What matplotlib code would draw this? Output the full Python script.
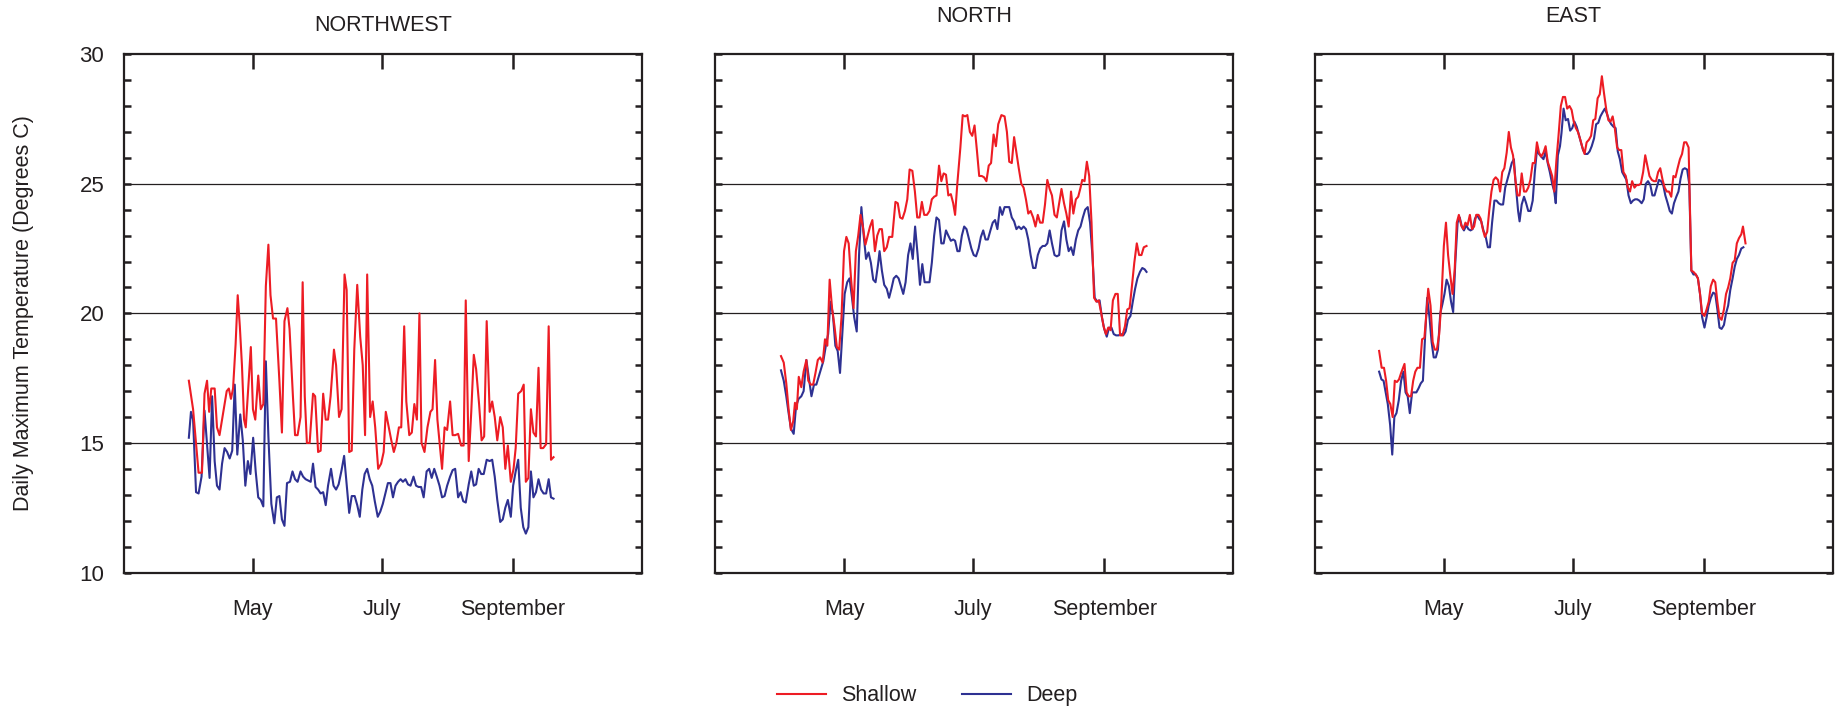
import matplotlib
matplotlib.use('Agg')
import matplotlib.pyplot as plt
from matplotlib.lines import Line2D

plt.rcParams['font.family'] = ['Liberation Sans', 'DejaVu Sans']

TEXT = '#231f20'
RED = '#ed1c24'
BLUE = '#2e3192'

panel_titles = ['NORTHWEST', 'NORTH', 'EAST']
month_days = [121, 182, 244]          # day of year: May 1, Jul 1, Sep 1
month_labels = ['May', 'July', 'September']
y_labels = [10, 15, 20, 25, 30]
series_names = ['Shallow', 'Deep']

# ---------------- NORTHWEST ----------------
nw_shallow_day = [90.8,92.8,95.4,97.0,98.2,99.4,100.4,101.4,103.0,104.1,
    105.3,107.3,108.7,109.7,110.7,111.7,112.9,113.9,114.9,115.9,
    116.9,117.7,119.1,120.1,121.1,122.2,123.6,124.8,126.0,127.2,
    128.4,129.4,130.6,132.0,133.6,134.8,136.0,137.4,138.4,140.0,
    141.0,142.2,143.6,144.6,145.6,146.6,147.9,149.5,150.5,151.9,
    153.1,154.3,155.5,156.6,157.8,159.4,160.4,161.8,163.0,164.4,
    165.4,166.6,167.8,169.0,170.4,171.8,173.0,174.1,175.1,176.5,
    177.7,178.9,180.3,181.7,182.9,183.9,185.3,186.5,187.7,188.9,
    190.1,191.2,192.6,193.6,195.0,196.2,197.4,198.6,199.8,200.8,
    202.2,203.6,205.0,206.0,207.2,208.3,210.5,211.7,212.9,214.3,
    215.5,216.7,218.1,219.5,220.7,221.7,223.1,224.3,225.5,226.6,
    228.0,229.2,230.4,231.6,233.0,234.2,235.4,236.6,238.0,239.2,
    240.4,241.6,243.0,244.3,245.3,246.5,247.9,249.1,250.1,251.3,
    252.5,253.7,254.9,256.1,257.1,258.3,259.7,260.9,262.0,263.2]
nw_shallow = [17.4,16.3,13.85,13.85,16.9,17.4,16.2,17.1,17.1,15.6,
    15.3,16.3,17.0,17.1,16.7,17.1,18.8,20.7,19.5,18.0,
    15.9,15.6,17.4,18.7,16.3,15.9,17.6,16.3,16.5,21.05,
    22.65,20.7,19.8,19.8,17.4,15.4,19.7,20.2,19.4,16.8,
    15.3,15.3,16.0,21.2,16.8,15.0,15.0,16.9,16.8,14.65,
    14.7,16.9,15.9,15.9,16.8,18.6,18.0,16.0,16.3,21.5,
    20.9,14.65,14.7,18.6,21.1,19.1,18.0,15.3,21.5,16.0,
    16.6,15.6,14.0,14.2,14.65,16.2,15.6,15.1,14.65,15.0,
    15.6,15.6,19.5,16.6,15.3,15.4,16.5,15.9,20.0,15.0,
    14.65,15.6,16.2,16.3,18.2,15.9,14.0,15.6,15.5,16.6,
    15.3,15.3,15.35,14.9,14.9,20.5,14.3,16.2,18.4,17.85,
    16.5,15.1,15.25,19.7,16.2,16.6,16.0,15.1,16.0,15.6,
    14.0,14.9,13.5,14.0,14.8,16.9,17.0,17.25,13.5,13.65,
    16.3,15.4,15.25,17.9,14.8,14.8,14.95,19.5,14.35,14.45]
nw_deep_day = [90.8,91.8,92.8,94.2,95.4,96.8,98.2,99.4,100.6,101.8,
    103.0,104.1,105.3,106.5,107.7,108.9,110.1,111.3,112.5,113.7,
    115.1,116.3,117.5,118.7,119.9,121.2,122.4,123.6,124.8,126.0,
    127.2,128.4,129.8,131.2,132.4,133.6,134.8,136.0,137.2,138.6,
    139.8,141.0,142.2,143.6,144.8,146.0,147.2,148.4,149.5,150.7,
    151.9,153.1,154.3,155.5,156.6,158.0,159.2,160.4,161.6,163.0,
    164.2,165.4,166.6,167.8,169.2,170.4,171.6,172.8,173.9,175.1,
    176.3,177.5,178.7,180.1,181.3,182.5,183.7,184.9,186.1,187.3,
    188.5,189.7,190.9,192.0,193.2,194.4,195.6,197.0,198.2,199.4,
    200.6,201.8,203.2,204.4,205.6,206.8,208.0,209.3,210.5,211.7,
    212.9,214.3,215.5,216.7,218.1,219.3,220.5,221.7,223.1,224.3,
    225.5,226.6,227.8,229.0,230.2,231.6,233.0,234.2,235.4,236.6,
    238.0,239.2,240.4,241.6,243.0,244.1,245.3,246.5,247.7,248.9,
    250.1,251.3,252.5,253.7,254.9,256.1,257.3,258.5,259.7,260.9,
    262.0,263.2]
nw_deep = [15.2,16.2,15.9,13.1,13.05,13.7,16.25,14.95,13.65,16.8,
    14.3,13.35,13.2,14.2,14.8,14.65,14.4,14.7,17.25,14.55,
    16.1,15.1,13.35,14.3,13.8,15.2,13.9,12.9,12.8,12.55,
    18.15,15.25,12.65,11.9,12.9,12.95,12.05,11.8,13.45,13.5,
    13.9,13.6,13.5,13.9,13.7,13.6,13.55,13.5,14.2,13.3,
    13.2,13.05,13.1,12.6,13.35,14.0,13.35,13.2,13.4,13.95,
    14.5,13.4,12.3,12.95,12.95,12.6,12.15,13.2,13.8,14.0,
    13.6,13.35,12.75,12.15,12.35,12.65,13.05,13.45,13.45,12.9,
    13.35,13.5,13.6,13.5,13.6,13.4,13.35,13.7,13.35,13.3,
    13.3,12.9,13.9,14.0,13.65,14.0,13.7,13.35,12.9,12.95,
    13.35,13.7,13.95,14.0,12.9,13.1,12.75,12.7,13.4,13.9,
    13.35,13.4,14.0,13.8,13.8,14.35,14.3,14.35,13.7,12.8,
    11.95,12.05,12.5,12.8,12.15,13.35,13.9,14.35,12.5,11.75,
    11.5,11.75,13.9,12.9,13.1,13.6,13.2,13.05,13.05,13.6,
    12.9,12.85]

# ---------------- NORTH ----------------
n_shallow_day = [91.2,92.5,93.7,94.8,95.9,97.0,97.8,98.7,99.6,100.8,
    101.9,103.2,104.1,105.3,106.4,107.5,108.6,109.7,110.9,112.0,
    113.1,114.2,115.4,116.5,117.6,118.7,119.8,121.0,122.1,123.2,
    124.3,125.5,126.6,127.7,128.8,129.9,131.1,132.2,133.3,134.4,
    135.6,136.7,137.8,138.9,140.0,141.2,142.3,143.8,145.3,146.4,
    147.5,148.6,149.8,150.9,152.0,153.3,154.5,155.6,156.7,157.8,
    158.9,160.2,161.4,162.5,163.6,164.7,165.9,167.0,168.1,169.2,
    170.3,171.5,172.6,173.5,174.6,176.0,177.1,178.2,179.3,180.5,
    181.6,182.7,183.8,184.9,186.1,187.2,188.3,189.4,190.5,191.7,
    192.8,193.9,195.4,196.9,198.0,199.1,200.3,201.4,202.5,203.6,
    204.8,205.9,207.0,208.1,209.2,210.4,211.5,212.6,213.7,214.9,
    216.0,217.1,218.2,219.3,220.5,221.6,222.7,223.8,225.0,226.1,
    227.2,228.3,229.4,230.6,231.7,232.8,233.6,234.7,235.8,236.9,
    238.0,239.2,240.3,241.4,242.5,243.7,244.8,245.9,247.0,248.1,
    249.3,250.4,251.5,252.6,253.8,254.9,256.0,257.1,258.2,259.4,
    260.5,261.6,262.7,264.0]
n_shallow = [18.35,18.1,17.3,16.3,15.5,15.85,16.55,16.3,17.55,17.15,
    17.75,18.2,17.4,17.25,17.25,17.7,18.2,18.3,18.1,19.0,
    18.75,21.3,20.15,19.5,18.7,18.6,19.85,22.4,22.95,22.7,
    21.35,20.2,22.4,23.0,23.8,23.35,22.65,23.0,23.35,23.6,
    22.4,23.0,23.25,23.25,22.4,22.55,22.95,22.95,24.3,24.25,
    23.7,23.65,23.95,24.4,25.55,25.5,24.7,23.7,23.7,24.3,
    23.8,23.8,23.95,24.4,24.5,24.55,25.7,25.1,25.4,25.35,
    24.55,24.6,24.25,23.8,25.05,26.4,27.65,27.6,27.65,27.0,
    26.85,27.25,26.3,25.3,25.3,25.25,25.1,25.7,25.8,26.9,
    26.45,27.3,27.65,27.6,27.0,25.85,25.8,26.8,26.2,25.6,
    25.0,24.85,24.4,23.85,23.95,23.7,23.35,23.8,23.5,23.5,
    24.2,25.15,24.8,24.55,23.8,23.7,24.25,24.8,24.25,23.85,
    23.35,24.7,23.85,24.4,24.5,24.85,25.15,25.1,25.85,25.3,
    23.5,20.6,20.45,20.5,20.05,19.5,19.2,19.45,19.35,20.5,
    20.75,20.75,19.15,19.15,19.5,20.15,20.2,21.05,21.95,22.7,
    22.25,22.25,22.55,22.6]
n_deep_day = [91.2,92.5,93.7,94.8,95.9,97.2,98.3,99.5,100.8,101.9,
    103.2,104.5,105.6,106.8,107.9,109.0,110.1,111.2,112.4,113.5,
    114.6,115.7,116.9,118.0,119.1,120.2,121.3,122.5,123.6,124.7,
    125.8,127.0,128.1,129.2,130.3,131.4,132.6,133.7,134.8,135.9,
    137.1,137.8,138.9,140.0,141.2,142.3,143.4,144.5,145.7,146.8,
    147.9,149.0,150.1,151.3,152.4,153.5,154.6,155.8,156.9,158.0,
    159.1,160.2,161.4,162.5,163.6,164.7,165.9,167.0,168.1,169.2,
    170.3,171.5,172.6,173.5,174.6,175.6,176.7,177.8,178.9,180.1,
    181.2,182.3,183.4,184.6,185.7,186.8,187.9,189.0,190.2,191.3,
    192.4,193.5,194.7,195.8,196.9,198.0,199.1,200.3,201.4,202.5,
    203.6,204.8,205.9,207.0,208.1,209.2,210.4,211.5,212.6,213.7,
    214.9,216.0,217.1,218.2,219.3,220.5,221.6,222.7,223.8,225.0,
    226.1,227.2,228.3,229.4,230.6,231.7,232.8,233.9,235.0,236.2,
    237.3,238.4,239.5,240.7,241.8,242.9,244.0,245.2,246.3,247.4,
    248.5,249.6,250.8,251.9,253.0,254.1,255.2,256.4,257.5,258.6,
    259.7,260.9,262.0,263.1,264.0]
n_deep = [17.8,17.4,16.8,16.15,15.55,15.35,16.4,16.7,16.8,17.0,
    18.2,17.45,16.8,17.25,17.25,17.55,17.85,18.15,18.75,19.2,
    20.45,20.0,18.75,18.55,17.7,19.2,20.75,21.2,21.35,20.65,
    19.85,19.3,22.25,24.1,23.0,22.1,22.35,21.95,21.3,21.2,
    21.9,22.4,21.65,21.1,20.95,20.6,20.95,21.35,21.45,21.35,
    21.05,20.75,21.2,22.25,22.7,22.1,23.35,22.25,21.1,21.9,
    21.2,21.2,21.2,21.95,23.0,23.7,23.6,22.7,22.7,23.2,
    23.0,22.8,22.85,22.8,22.4,22.4,23.0,23.35,23.25,22.85,
    22.5,22.25,22.2,22.5,22.95,23.2,22.85,22.85,23.2,23.5,
    23.6,23.25,24.1,23.8,24.1,24.1,24.1,23.7,23.55,23.25,
    23.35,23.25,23.35,23.25,22.85,22.25,21.75,21.75,22.25,22.5,
    22.6,22.6,22.7,23.2,22.7,22.25,22.2,22.25,23.2,23.55,
    22.85,22.4,22.55,22.25,22.85,23.2,23.35,23.7,24.0,24.1,
    23.5,22.25,20.6,20.45,20.5,19.85,19.4,19.1,19.45,19.45,
    19.2,19.15,19.15,19.2,19.15,19.3,19.75,19.9,20.45,20.95,
    21.35,21.6,21.75,21.7,21.6]

# ---------------- EAST ----------------
e_shallow_day = [90.5,91.7,92.8,93.8,94.8,95.8,96.9,97.9,98.9,99.9,
    100.9,102.5,103.5,104.5,105.6,106.6,107.6,108.6,109.8,110.8,
    111.9,112.9,113.7,114.8,115.8,116.8,117.8,118.9,119.9,121.1,
    122.1,123.1,124.1,125.2,126.2,127.2,128.2,129.3,130.3,131.3,
    132.3,133.4,134.4,135.4,136.4,137.5,138.5,139.5,140.5,141.6,
    142.6,143.6,144.6,145.6,146.7,147.7,148.7,149.7,150.8,151.8,
    152.8,153.8,154.9,155.9,156.9,157.9,159.0,160.0,161.0,162.0,
    163.1,164.1,165.1,166.1,167.1,168.2,169.2,170.2,171.2,172.3,
    173.3,174.3,175.3,176.4,177.4,178.4,179.4,180.5,181.5,182.5,
    183.5,184.5,185.6,186.6,187.6,188.6,189.7,190.7,191.7,192.7,
    193.8,194.8,195.8,196.8,197.9,198.9,199.9,200.9,201.9,203.0,
    204.0,205.0,206.0,207.1,208.1,209.1,210.1,211.2,212.2,213.2,
    214.2,215.3,216.3,217.3,218.3,219.4,220.4,221.4,222.4,223.4,
    224.5,225.5,226.5,227.5,228.6,229.6,230.6,231.6,232.7,233.7,
    234.7,235.7,236.8,237.4,238.1,239.1,240.2,241.2,242.2,243.2,
    244.3,245.3,246.3,247.3,248.4,249.4,250.4,251.4,252.4,253.5,
    254.5,255.5,256.5,257.6,258.6,259.6,260.6,261.7,262.5,263.7]
e_shallow = [18.55,17.9,17.9,17.4,16.65,16.5,16.0,17.4,17.35,17.45,
    17.7,18.05,16.95,16.8,16.8,17.4,17.75,17.9,17.9,19.0,
    19.05,20.05,20.95,20.3,18.9,18.6,18.6,19.2,20.45,22.6,
    23.5,22.25,21.5,20.75,21.65,23.5,23.8,23.4,23.25,23.5,
    23.4,23.8,23.25,23.35,23.8,23.8,23.65,23.25,22.95,23.15,
    24.0,24.7,25.15,25.25,25.15,24.7,25.45,25.6,26.2,27.0,
    26.4,26.1,25.15,24.55,24.55,25.4,24.7,24.7,24.85,25.15,
    25.8,25.8,26.6,26.2,26.05,26.2,26.45,25.85,25.6,25.3,
    24.7,25.9,26.85,28.0,28.35,28.35,27.9,28.0,27.85,27.4,
    27.15,27.0,26.7,26.4,26.15,26.6,26.7,26.85,27.45,27.5,
    28.3,28.45,29.15,28.5,27.85,27.45,27.4,27.6,27.15,26.4,
    26.3,26.3,25.45,25.3,24.85,24.7,25.1,24.85,24.95,24.95,
    25.0,25.45,26.1,25.7,25.3,25.15,25.1,25.1,25.45,25.6,
    25.15,24.85,24.7,24.7,24.5,25.3,25.25,25.6,25.95,26.15,
    26.6,26.6,26.4,24.25,21.65,21.6,21.5,21.35,20.75,20.0,
    19.9,20.15,20.45,21.05,21.3,21.2,20.45,19.85,19.75,20.15,
    20.75,21.0,21.35,21.95,22.05,22.7,22.9,23.05,23.35,22.7]
e_deep_day = [90.5,91.6,92.6,93.6,94.6,95.7,96.7,97.7,98.7,99.8,
    100.9,102.0,103.0,104.0,105.0,106.1,107.1,108.1,109.1,110.2,
    111.2,112.2,113.2,114.3,115.3,116.3,117.3,118.3,119.4,120.4,
    121.4,122.4,123.5,124.5,125.5,126.5,127.6,128.6,129.6,130.6,
    131.7,132.7,133.7,134.7,135.8,136.8,137.8,138.8,139.8,140.9,
    141.9,142.9,143.9,145.0,146.0,147.0,148.0,149.1,150.1,151.1,
    152.1,153.2,154.2,155.2,156.2,156.9,157.9,159.0,160.0,161.0,
    162.0,163.1,164.1,165.1,166.1,167.1,168.2,169.2,170.2,171.2,
    172.3,173.3,174.0,175.0,176.0,176.7,177.7,178.7,179.8,180.8,
    181.8,182.8,183.9,184.9,185.9,186.9,188.0,189.0,190.0,191.0,
    192.1,193.1,194.1,195.1,196.1,197.2,198.2,199.2,200.2,201.3,
    202.3,203.3,204.3,205.4,206.4,207.4,208.4,209.5,210.5,211.5,
    212.5,213.5,214.6,215.6,216.6,217.6,218.7,219.7,220.7,221.7,
    222.8,223.8,224.8,225.8,226.9,227.9,228.9,229.9,231.0,232.0,
    233.0,234.0,235.0,236.1,237.1,238.1,239.1,240.2,241.2,242.2,
    243.2,244.3,245.3,246.3,247.3,248.4,249.4,250.4,251.4,252.4,
    253.5,254.5,255.5,256.5,257.6,258.6,259.6,260.6,261.7,262.7]
e_deep = [17.75,17.45,17.4,16.95,16.5,15.7,14.55,16.0,16.15,16.65,
    17.4,17.75,16.95,16.8,16.15,16.95,16.95,16.95,17.1,17.3,
    17.4,19.05,20.6,19.85,18.9,18.3,18.3,18.6,20.0,20.35,
    20.75,21.3,21.05,20.45,20.05,21.95,23.5,23.7,23.35,23.2,
    23.4,23.25,23.2,23.25,23.65,23.8,23.65,23.55,23.2,22.95,
    22.55,22.55,23.5,24.35,24.35,24.25,24.2,24.2,24.85,25.15,
    25.45,25.8,25.95,24.85,23.95,23.55,24.2,24.5,24.25,23.95,
    23.95,24.35,25.45,26.3,26.15,26.05,25.95,26.25,25.8,25.45,
    25.0,24.7,24.25,26.1,26.45,26.95,27.9,27.45,27.5,27.05,
    27.15,27.4,27.2,26.9,26.6,26.3,26.15,26.15,26.25,26.45,
    26.75,27.3,27.35,27.6,27.75,27.9,27.7,27.45,27.3,27.2,
    27.15,26.25,25.95,25.45,25.3,25.15,24.55,24.25,24.35,24.4,
    24.4,24.35,24.25,24.4,25.0,25.1,24.95,24.55,24.55,24.85,
    25.15,25.1,24.95,24.55,24.25,23.95,23.85,24.25,24.5,24.7,
    25.2,25.55,25.6,25.55,25.0,21.65,21.5,21.5,21.35,20.75,
    19.85,19.45,19.85,20.3,20.6,20.8,20.75,20.15,19.45,19.4,
    19.55,20.0,20.3,20.9,21.35,21.8,22.1,22.25,22.5,22.55]

panels = [
    (nw_shallow_day, nw_shallow, nw_deep_day, nw_deep),
    (n_shallow_day, n_shallow, n_deep_day, n_deep),
    (e_shallow_day, e_shallow, e_deep_day, e_deep),
]

fig = plt.figure(figsize=(18.47, 7.08), dpi=100)
ax_w, ax_h, ax_b = 0.2806, 0.73207, 0.19138
lefts = [0.06697, 0.38711, 0.71175]
title_y = [1.055, 1.073, 1.073]

for i, (sd, sv, dd, dv) in enumerate(panels):
    ax = fig.add_axes([lefts[i], ax_b, ax_w, ax_h])
    for y in [15, 20, 25]:
        ax.axhline(y, color='#231f20', lw=0.9, zorder=1)
    ax.plot(sd, sv, color=RED, lw=1.5, zorder=3)
    ax.plot(dd, dv, color=BLUE, lw=1.5, zorder=2)
    ax.set_xlim(60, 305)
    ax.set_ylim(10, 30)
    for sp in ax.spines.values():
        sp.set_linewidth(1.6)
        sp.set_color(TEXT)
    ax.set_xticks(month_days)
    ax.set_xticklabels(month_labels)
    ax.set_yticks(y_labels)
    ax.set_yticks(range(10, 31), minor=True)
    ax.tick_params(axis='x', which='major', direction='in', top=True, bottom=True,
                   length=11, width=1.8, color=TEXT, labelsize=15.5, labelcolor=TEXT, pad=19)
    ax.tick_params(axis='y', which='both', direction='in', left=True, right=True,
                   length=5, width=1.8, color=TEXT, labelsize=16, labelcolor=TEXT, pad=14)
    if i == 0:
        ax.set_yticklabels([str(v) for v in y_labels])
    else:
        ax.set_yticklabels([])
    ax.text(0.5, title_y[i], panel_titles[i], transform=ax.transAxes,
            ha='center', va='center', fontsize=15.5, color=TEXT)

fig.text(0.0128, 0.558, 'Daily Maximum Temperature (Degrees C)', rotation=90,
         ha='center', va='center', fontsize=15.5, color=TEXT)

handles = [Line2D([], [], color=RED, lw=1.5), Line2D([], [], color=BLUE, lw=1.5)]
fig.legend(handles, series_names, loc='center', bbox_to_anchor=(0.502, 0.017),
           ncol=2, frameon=False, fontsize=15.5, handlelength=2.3, handletextpad=0.7,
           columnspacing=2.1, labelcolor=TEXT)

fig.savefig('out.png', dpi=100)
